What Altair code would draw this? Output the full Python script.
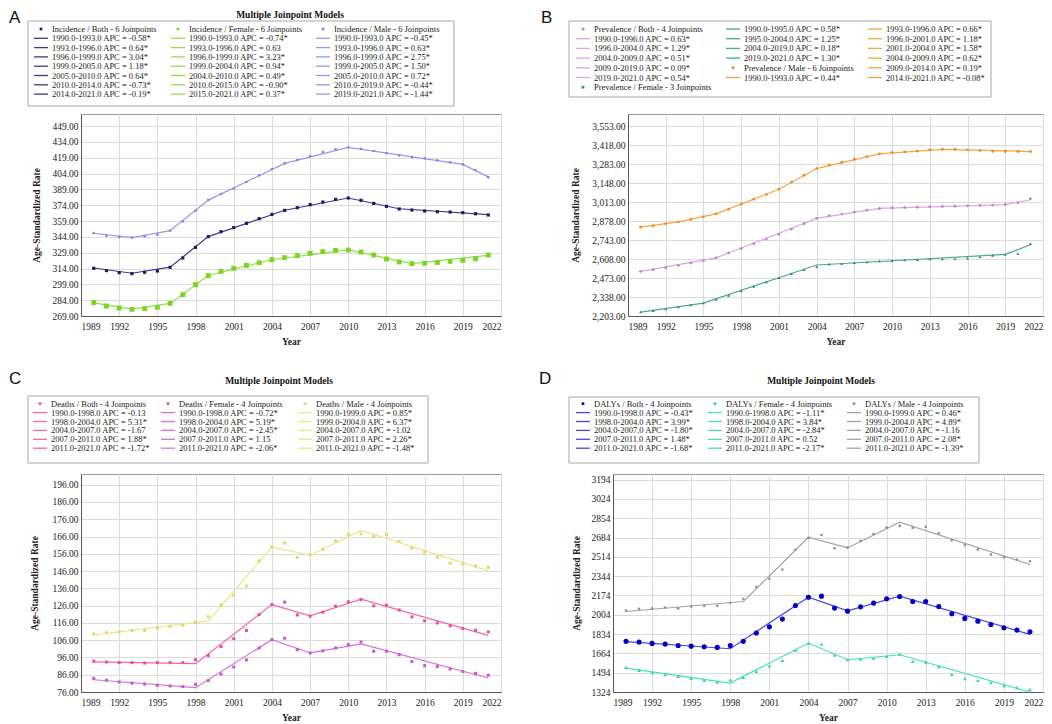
import altair as alt
import pandas as pd

YEARS = list(range(1990, 2022))

# ---------------- Panel A: Incidence ----------------
A_both_obs = [314.2, 312.0, 310.1, 309.1, 310.4, 311.6, 315.1, 324.0, 334.1, 344.2, 348.9, 352.7, 356.8, 361.2, 365.3, 369.1,
              371.6, 374.5, 377.0, 379.5, 380.8, 378.6, 375.7, 372.9, 370.4, 369.4, 368.5, 367.8, 367.5, 366.9, 365.9, 364.7]
A_fem_obs = [281.6, 278.5, 276.6, 275.3, 275.9, 277.2, 281.0, 289.2, 298.7, 307.2, 311.3, 314.2, 317.0, 319.5, 322.4, 324.3,
             326.2, 328.4, 329.9, 331.2, 331.5, 329.6, 326.8, 323.0, 320.2, 318.6, 318.9, 319.8, 320.8, 321.7, 323.3, 326.8]
A_male_obs = [347.6, 345.1, 343.8, 343.2, 344.5, 346.1, 349.8, 358.7, 368.8, 378.9, 384.6, 389.6, 396.0, 402.3, 408.3, 413.6,
              416.8, 420.6, 424.4, 426.9, 428.8, 427.5, 425.3, 423.4, 421.2, 419.6, 418.4, 416.5, 414.6, 412.7, 407.3, 400.4]
A_both_jp = [1990, 1993, 1996, 1999, 2005, 2010, 2014, 2021]
A_both_fit = [314.5, 309.5, 315.3, 344.2, 369.2, 380.8, 370.6, 365.0]
A_fem_jp = [1990, 1993, 1996, 1999, 2004, 2010, 2015, 2021]
A_fem_fit = [281.5, 275.6, 280.9, 307.4, 322.3, 331.6, 318.6, 326.4]
A_male_jp = [1990, 1993, 1996, 1999, 2005, 2010, 2019, 2021]
A_male_fit = [347.4, 343.3, 349.9, 378.8, 413.6, 428.8, 412.6, 400.8]
A_both_leg = ["Incidence / Both - 6 Joinpoints", "1990.0-1993.0 APC = -0.58*", "1993.0-1996.0 APC =  0.64*",
              "1996.0-1999.0 APC =  3.04*", "1999.0-2005.0 APC =  1.18*", "2005.0-2010.0 APC =  0.64*",
              "2010.0-2014.0 APC = -0.73*", "2014.0-2021.0 APC = -0.19*"]
A_fem_leg = ["Incidence / Female - 6 Joinpoints", "1990.0-1993.0 APC = -0.74*", "1993.0-1996.0 APC =  0.63",
             "1996.0-1999.0 APC =  3.23*", "1999.0-2004.0 APC =  0.94*", "2004.0-2010.0 APC =  0.49*",
             "2010.0-2015.0 APC = -0.90*", "2015.0-2021.0 APC =  0.37*"]
A_male_leg = ["Incidence / Male - 6 Joinpoints", "1990.0-1993.0 APC = -0.45*", "1993.0-1996.0 APC =  0.63*",
              "1996.0-1999.0 APC =  2.75*", "1999.0-2005.0 APC =  1.50*", "2005.0-2010.0 APC =  0.72*",
              "2010.0-2019.0 APC = -0.44*", "2019.0-2021.0 APC = -1.44*"]

# ---------------- Panel B: Prevalence ----------------
B_both_obs = [2520, 2532, 2546, 2563, 2580, 2596, 2617, 2651, 2684, 2717, 2750, 2783, 2821, 2859, 2897, 2916,
              2928, 2942, 2956, 2968, 2973, 2975, 2977, 2980, 2982, 2984, 2987, 2989, 2992, 2996, 3008, 3037]
B_fem_obs = [2231, 2241, 2253, 2267, 2281, 2295, 2321, 2350, 2381, 2414, 2445, 2475, 2504, 2532, 2553, 2572,
             2575, 2582, 2587, 2594, 2596, 2601, 2603, 2608, 2608, 2610, 2615, 2624, 2634, 2641, 2648, 2717]
B_male_obs = [2835, 2845, 2859, 2873, 2890, 2909, 2930, 2963, 2999, 3034, 3067, 3105, 3155, 3205, 3252, 3278,
              3297, 3318, 3337, 3356, 3366, 3370, 3377, 3385, 3389, 3389, 3385, 3380, 3375, 3373, 3373, 3373]
B_both_jp = [1990, 1996, 2004, 2009, 2019, 2021]
B_both_fit = [2520, 2617, 2897, 2968, 2995, 3030]
B_fem_jp = [1990, 1995, 2004, 2019, 2021]
B_fem_fit = [2231, 2295, 2566, 2641, 2710]
B_male_jp = [1990, 1993, 1996, 2001, 2004, 2009, 2014, 2021]
B_male_fit = [2835, 2873, 2930, 3105, 3252, 3356, 3389, 3373]
B_both_leg = ["Prevalence / Both - 4 Joinpoints", "1990.0-1996.0 APC = 0.63*", "1996.0-2004.0 APC = 1.29*",
              "2004.0-2009.0 APC = 0.51*", "2009.0-2019.0 APC = 0.09*", "2019.0-2021.0 APC = 0.54*"]
B_fem_leg = ["Prevalence / Female - 3 Joinpoints", "1990.0-1995.0 APC = 0.58*", "1995.0-2004.0 APC = 1.25*",
             "2004.0-2019.0 APC = 0.18*", "2019.0-2021.0 APC = 1.30*"]
B_male_leg = ["Prevalence / Male - 6 Joinpoints", "1990.0-1993.0 APC =  0.44*", "1993.0-1996.0 APC =  0.66*",
              "1996.0-2001.0 APC =  1.18*", "2001.0-2004.0 APC =  1.58*", "2004.0-2009.0 APC =  0.62*",
              "2009.0-2014.0 APC =  0.19*", "2014.0-2021.0 APC = -0.08*"]

# ---------------- Panel C: Deaths ----------------
C_both_obs = [93.8, 93.4, 93.0, 93.0, 92.8, 93.0, 93.0, 93.0, 94.7, 97.1, 102.3, 106.9, 111.6, 120.8, 126.6, 128.0,
              120.6, 119.9, 122.2, 125.7, 128.2, 129.5, 125.9, 126.2, 123.5, 119.5, 117.2, 116.0, 114.3, 112.7, 111.7, 110.8]
C_fem_obs = [83.9, 82.8, 81.8, 81.2, 80.6, 79.9, 79.5, 79.1, 80.4, 82.6, 86.4, 90.5, 94.6, 101.5, 106.3, 107.1,
             100.5, 98.6, 99.8, 101.5, 103.4, 105.0, 99.6, 99.6, 97.6, 93.6, 91.3, 90.7, 89.3, 87.8, 86.8, 85.7]
C_male_obs = [109.6, 110.4, 110.8, 111.6, 111.7, 113.1, 114.1, 114.6, 116.6, 119.5, 126.4, 132.0, 137.4, 151.9, 160.1, 162.2,
              153.9, 155.4, 158.7, 163.5, 167.2, 167.6, 165.9, 167.2, 163.3, 159.3, 157.0, 154.1, 150.6, 150.0, 149.0, 148.1]
C_both_jp = [1990, 1998, 2004, 2007, 2011, 2021]
C_both_fit = [93.4, 92.4, 126.6, 120.1, 129.7, 108.8]
C_fem_jp = [1990, 1998, 2004, 2007, 2011, 2021]
C_fem_fit = [83.1, 78.5, 106.3, 98.6, 103.8, 84.1]
C_male_jp = [1990, 1999, 2004, 2007, 2011, 2021]
C_male_fit = [109.0, 117.2, 159.9, 155.2, 169.5, 146.1]
C_both_leg = ["Deaths / Both - 4 Joinpoints", "1990.0-1998.0 APC = -0.13", "1998.0-2004.0 APC =  5.31*",
              "2004.0-2007.0 APC = -1.67", "2007.0-2011.0 APC =  1.88*", "2011.0-2021.0 APC = -1.72*"]
C_fem_leg = ["Deaths / Female - 4 Joinpoints", "1990.0-1998.0 APC = -0.72*", "1998.0-2004.0 APC =  5.19*",
             "2004.0-2007.0 APC = -2.45*", "2007.0-2011.0 APC =  1.15", "2011.0-2021.0 APC = -2.06*"]
C_male_leg = ["Deaths / Male - 4 Joinpoints", "1990.0-1999.0 APC =  0.85*", "1999.0-2004.0 APC =  6.37*",
              "2004.0-2007.0 APC = -1.02", "2007.0-2011.0 APC =  2.26*", "2011.0-2021.0 APC = -1.48*"]

# ---------------- Panel D: DALYs ----------------
D_both_obs = [1770, 1764, 1752, 1746, 1734, 1728, 1723, 1717, 1734, 1770, 1843, 1898, 1966, 2086, 2159, 2168,
              2063, 2036, 2074, 2107, 2145, 2165, 2121, 2121, 2077, 2013, 1972, 1948, 1919, 1890, 1869, 1855]
D_fem_obs = [1541, 1515, 1494, 1476, 1462, 1444, 1427, 1412, 1430, 1453, 1506, 1553, 1602, 1693, 1755, 1746,
             1649, 1608, 1614, 1623, 1638, 1658, 1594, 1588, 1547, 1479, 1441, 1427, 1406, 1380, 1362, 1347]
D_male_obs = [2042, 2057, 2060, 2068, 2060, 2077, 2083, 2083, 2110, 2145, 2250, 2321, 2403, 2576, 2681, 2707,
              2590, 2596, 2655, 2716, 2772, 2787, 2769, 2778, 2722, 2660, 2619, 2578, 2534, 2511, 2491, 2476]
D_both_jp = [1990, 1998, 2004, 2007, 2011, 2021]
D_both_fit = [1767, 1705, 2159, 2039, 2168, 1831]
D_fem_jp = [1990, 1998, 2004, 2007, 2011, 2021]
D_fem_fit = [1535, 1403, 1755, 1608, 1652, 1324]
D_male_jp = [1990, 1999, 2004, 2007, 2011, 2021]
D_male_fit = [2033, 2121, 2687, 2593, 2819, 2447]
D_both_leg = ["DALYs / Both - 4 Joinpoints", "1990.0-1998.0 APC = -0.43*", "1998.0-2004.0 APC =  3.99*",
              "2004.0-2007.0 APC = -1.80*", "2007.0-2011.0 APC =  1.48*", "2011.0-2021.0 APC = -1.68*"]
D_fem_leg = ["DALYs / Female - 4 Joinpoints", "1990.0-1998.0 APC = -1.11*", "1998.0-2004.0 APC =  3.84*",
             "2004.0-2007.0 APC = -2.84*", "2007.0-2011.0 APC =  0.52", "2011.0-2021.0 APC = -2.17*"]
D_male_leg = ["DALYs / Male - 4 Joinpoints", "1990.0-1999.0 APC =  0.46*", "1999.0-2004.0 APC =  4.89*",
              "2004.0-2007.0 APC = -1.16", "2007.0-2011.0 APC =  2.08*", "2011.0-2021.0 APC = -1.39*"]

X_TICKS = list(range(1989, 2023, 3))
TITLE = "Multiple Joinpoint Models"
SERIF = "Liberation Serif"
SANS = "Liberation Sans"


def series_layers(xs, ys, xaxis, yaxis, obs, jp, fit, line_color, pt_color, shape, size):
    d_obs = pd.DataFrame({"year": YEARS, "value": obs})
    d_fit = pd.DataFrame({"year": jp, "value": fit})
    enc = dict(
        x=alt.X("year:Q", scale=xs, axis=xaxis, title="Year"),
        y=alt.Y("value:Q", scale=ys, axis=yaxis, title="Age-Standardized Rate"),
    )
    line = alt.Chart(d_fit).mark_line(color=line_color, strokeWidth=1.2).encode(**enc)
    pts = alt.Chart(d_obs).mark_point(filled=True, color=pt_color, shape=shape, size=size, opacity=1).encode(**enc)
    return [line, pts]


def legend_layer(series_entries, col_sizes, col_x, y0, step, box, line_colors, pt_colors):
    # flow entries column-major into columns of the given sizes
    flat = []
    for si, entries in enumerate(series_entries):
        for ei, lab in enumerate(entries):
            flat.append((si, "head" if ei == 0 else "seg", lab))
    rows = []
    idx = 0
    for ci, n in enumerate(col_sizes):
        for ri in range(n):
            if idx < len(flat):
                si, kind, lab = flat[idx]
                rows.append({"col": ci, "row": ri, "kind": kind, "label": lab,
                             "lc": line_colors[si], "pc": pt_colors[si]})
                idx += 1
    df = pd.DataFrame(rows)
    nrows = max(col_sizes)
    lx = alt.X("col:Q", scale=alt.Scale(domain=[0, 1, 2], range=col_x), axis=None)
    ly = alt.Y("row:Q", scale=alt.Scale(domain=[0, nrows - 1], range=[y0, y0 + step * (nrows - 1)]), axis=None)
    boxc = alt.Chart(alt.Data(values=[{}])).mark_rect(fill="white", stroke="#a8a8a8", strokeWidth=1).encode(
        x=alt.value(box[0]), x2=alt.value(box[1]), y=alt.value(box[2]), y2=alt.value(box[3]))
    txt = alt.Chart(df).mark_text(align="left", baseline="middle", font=SERIF, fontSize=8.5, color="#222").encode(
        x=lx, y=ly, text="label:N")
    segs = alt.Chart(df).transform_filter("datum.kind == 'seg'").mark_point(
        shape="stroke", size=196, strokeWidth=1.3, xOffset=-11, opacity=1).encode(
        x=lx, y=ly, stroke=alt.Stroke("lc:N", scale=None))
    heads = alt.Chart(df).transform_filter("datum.kind == 'head'").mark_point(
        shape="square", filled=True, size=7, xOffset=-11, opacity=1).encode(
        x=lx, y=ly, fill=alt.Fill("pc:N", scale=None))
    return alt.layer(boxc, txt, segs, heads)


def text_at(text, x, y, font, size, weight="normal", align="left"):
    return alt.Chart(alt.Data(values=[{}])).mark_text(
        text=text, font=font, fontSize=size, fontWeight=weight, align=align, baseline="top", color="#111").encode(
        x=alt.value(x), y=alt.value(y))


def panel(w, h, ydom, yticks, yfmt, ytp, series, legend_spec, letter, letter_xy, title_xy):
    xs = alt.Scale(domain=[1989, 2022], nice=False, zero=False)
    ys = alt.Scale(domain=ydom, nice=False, zero=False)
    xaxis = alt.Axis(values=X_TICKS, format="d", labelPadding=5, titlePadding=6)
    yaxis = alt.Axis(values=yticks, format=yfmt, labelPadding=3, titlePadding=ytp)
    layers = []
    for s in series:
        layers += series_layers(xs, ys, xaxis, yaxis, *s)
    data_layer = alt.layer(*layers)
    deco = [legend_layer(*legend_spec), text_at(letter, letter_xy[0], letter_xy[1], SANS, 17)]
    if title_xy is not None:
        deco.append(text_at(TITLE, title_xy[0], title_xy[1], SERIF, 9.5, "bold", "center"))
    deco_layer = alt.layer(*deco)
    return alt.layer(data_layer, deco_layer).resolve_scale(x="independent", y="independent").properties(
        width=w, height=h)


# colours
A_cols_line = ["#3a3a8a", "#8fe048", "#9d95ea"]
A_cols_pt = ["#1a1a5e", "#7ad61e", "#8a80e0"]
B_cols_line = ["#dba6e2", "#45ad80", "#f5a444"]
B_cols_pt = ["#c77fd4", "#2e8b62", "#ea8a28"]
C_cols_line = ["#f068a6", "#d66fd8", "#eee58a"]
C_cols_pt = ["#e9509a", "#cc55cc", "#e2d96a"]
D_cols_line = ["#4848d8", "#45e3a6", "#a3a3a3"]
D_cols_pt = ["#0000c8", "#2fd894", "#8f8f8f"]

pA = panel(
    420, 202, [269, 460.4], list(range(269, 450, 15)), ".2f", 10,
    [(A_both_obs, A_both_jp, A_both_fit, A_cols_line[0], A_cols_pt[0], "square", 10),
     (A_fem_obs, A_fem_jp, A_fem_fit, A_cols_line[1], A_cols_pt[1], "square", 24),
     (A_male_obs, A_male_jp, A_male_fit, A_cols_line[2], A_cols_pt[2], "circle", 7)],
    ([A_both_leg, A_fem_leg, A_male_leg], [8, 8, 8], [-29, 108, 253], -85, 9.3, (-53, 373, -93, -8),
     A_cols_line, A_cols_pt),
    "A", (-72, -104), (209, -104))

pB = panel(
    415, 202, [2203, 3640], list(range(2203, 3554, 135)), ",.2f", 11,
    [(B_both_obs, B_both_jp, B_both_fit, B_cols_line[0], B_cols_pt[0], "circle", 8),
     (B_fem_obs, B_fem_jp, B_fem_fit, B_cols_line[1], B_cols_pt[1], "triangle-up", 9),
     (B_male_obs, B_male_jp, B_male_fit, B_cols_line[2], B_cols_pt[2], "circle", 8)],
    ([B_both_leg, B_fem_leg, B_male_leg], [7, 6, 6], [-34, 116, 258], -85, 9.7, (-59, 363, -93, -17),
     B_cols_line, B_cols_pt),
    "B", (-87, -104), None)

pC = panel(
    420, 218, [76, 202.2], list(range(76, 197, 10)), ".2f", 12,
    [(C_both_obs, C_both_jp, C_both_fit, C_cols_line[0], C_cols_pt[0], "square", 9),
     (C_fem_obs, C_fem_jp, C_fem_fit, C_cols_line[1], C_cols_pt[1], "square", 9),
     (C_male_obs, C_male_jp, C_male_fit, C_cols_line[2], C_cols_pt[2], "square", 9)],
    ([C_both_leg, C_fem_leg, C_male_leg], [6, 6, 6], [-30, 98, 235], -70.3, 8.9, (-53, 347, -78, -11),
     C_cols_line, C_cols_pt),
    "C", (-72, -103), (198, -98))

pD = panel(
    430, 218, [1324, 3244], list(range(1324, 3195, 170)), "d", 10,
    [(D_both_obs, D_both_jp, D_both_fit, D_cols_line[0], D_cols_pt[0], "circle", 26),
     (D_fem_obs, D_fem_jp, D_fem_fit, D_cols_line[1], D_cols_pt[1], "triangle-up", 14),
     (D_male_obs, D_male_jp, D_male_fit, D_cols_line[2], D_cols_pt[2], "circle", 7)],
    ([D_both_leg, D_fem_leg, D_male_leg], [6, 6, 6], [-19, 113, 252], -70.3, 8.9, (-44, 366, -77, -11),
     D_cols_line, D_cols_pt),
    "D", (-74, -103), (208, -98))

row1 = alt.hconcat(pA, pB, spacing=127, bounds="flush")
row2 = alt.hconcat(pC, pD, spacing=112, bounds="flush")
# nested rows count as zero height under flush bounds, so spacing is top-to-top
chart = alt.vconcat(row1, row2, spacing=360, bounds="flush").properties(
    padding=0, background="white"
).configure_view(stroke="#9a9a9a", strokeWidth=1).configure_axis(
    labelFont=SERIF, labelFontSize=9.5, labelColor="#222",
    titleFont=SERIF, titleFontSize=9.5, titleFontWeight="bold", titleColor="#222",
    gridColor="#dcdcdc", gridWidth=1, domainColor="#555", ticks=False,
)

chart.save("out.html", embed_options={"renderer": "svg", "actions": False})
